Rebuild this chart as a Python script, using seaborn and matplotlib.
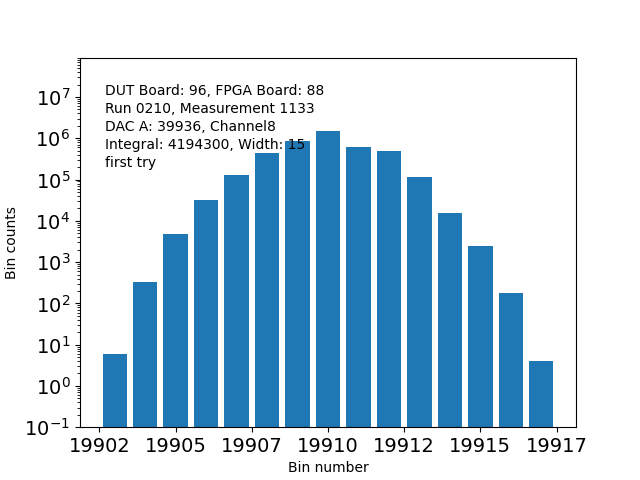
import numpy as np
import pandas as pd
import seaborn as sns
import matplotlib
matplotlib.use('Agg')
import matplotlib.pyplot as plt
from matplotlib.ticker import MultipleLocator, FormatStrFormatter

# bin numbers and counts
bins = [19903, 19904, 19905, 19906, 19907, 19908, 19909, 19910,
        19911, 19912, 19913, 19914, 19915, 19916, 19917]
counts = [6, 330, 4800, 32000, 130000, 440000, 860000, 1500000,
          610000, 490000, 116000, 15500, 2450, 177, 4]

info_lines = [
    "DUT Board: 96, FPGA Board: 88",
    "Run 0210, Measurement 1133",
    "DAC A: 39936, Channel8",
    "Integral: 4194300, Width: 15",
    "first try",
]

df = pd.DataFrame({'bin': bins, 'count': counts})

fig, ax = plt.subplots(figsize=(6.4, 4.8), dpi=100)
sns.barplot(data=df, x='bin', y='count', native_scale=True, color='#1f77b4',
            saturation=1, width=0.8, linewidth=0, errorbar=None, ax=ax)

ax.set_yscale('log')
ax.set_ylim(0.1, 9e7)
pad = 0.05 * (bins[-1] - bins[0] + 0.8)
ax.set_xlim(bins[0] - 0.4 - pad, bins[-1] + 0.4 + pad)

ax.xaxis.set_major_locator(MultipleLocator(2.5))
ax.xaxis.set_major_formatter(FormatStrFormatter('%d'))
ax.tick_params(axis='both', which='major', labelsize=14)

ax.set_xlabel('Bin number')
ax.set_ylabel('Bin counts')

ax.text(0.05, 0.928, "\n".join(info_lines), transform=ax.transAxes,
        va='top', ha='left', fontsize=10, linespacing=1.37)

plt.savefig('out.png', dpi=100)
